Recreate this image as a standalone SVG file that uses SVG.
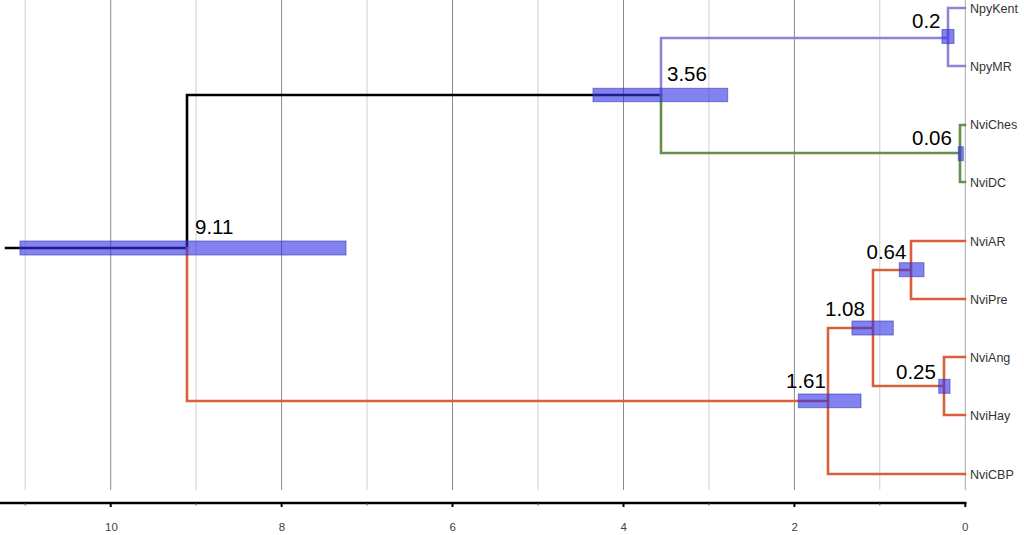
<svg xmlns="http://www.w3.org/2000/svg" width="1024" height="535" viewBox="0 0 1024 535">
<style>
.gmaj{stroke:#8a8a8a;stroke-width:1}
.gmin{stroke:#cfcfcf;stroke-width:1}
.br{fill:none;stroke-width:2.6;stroke-linejoin:miter;stroke-linecap:square}
.blk{stroke:#000}
.pur{stroke:#8e84d6}
.grn{stroke:#64904a}
.org{stroke:#d8613a}
.hpd{fill:#2f2fe6;fill-opacity:0.6;stroke:#3a3ab0;stroke-opacity:0.6;stroke-width:1}
.nl{font-family:"Liberation Sans",Arial,sans-serif;font-size:20.5px;fill:#000}
.tl{font-family:"Liberation Sans",Arial,sans-serif;font-size:12.5px;fill:#333}
.ax{font-family:"Liberation Sans",Arial,sans-serif;font-size:11.5px;fill:#444;text-anchor:middle}
</style>
<rect width="1024" height="535" fill="#fff"/>
<g id="grid">
<line class="gmin" x1="25.2" y1="0" x2="25.2" y2="490"/>
<line class="gmaj" x1="110.7" y1="0" x2="110.7" y2="490"/>
<line class="gmin" x1="196.1" y1="0" x2="196.1" y2="490"/>
<line class="gmaj" x1="281.6" y1="0" x2="281.6" y2="490"/>
<line class="gmin" x1="367" y1="0" x2="367" y2="490"/>
<line class="gmaj" x1="452.5" y1="0" x2="452.5" y2="490"/>
<line class="gmin" x1="538" y1="0" x2="538" y2="490"/>
<line class="gmaj" x1="623.5" y1="0" x2="623.5" y2="490"/>
<line class="gmin" x1="708.9" y1="0" x2="708.9" y2="490"/>
<line class="gmaj" x1="794.4" y1="0" x2="794.4" y2="490"/>
<line class="gmin" x1="879.8" y1="0" x2="879.8" y2="490"/>
<line stroke="#a8a8a8" stroke-width="1" x1="965.3" y1="0" x2="965.3" y2="490"/>
</g>
<g id="axis">
<line x1="0" y1="503" x2="966.5" y2="503" stroke="#000" stroke-width="2.6"/>
<g stroke="#000" stroke-width="2">
<line x1="110.7" y1="503" x2="110.7" y2="507"/>
<line x1="281.6" y1="503" x2="281.6" y2="507"/>
<line x1="452.5" y1="503" x2="452.5" y2="507"/>
<line x1="623.5" y1="503" x2="623.5" y2="507"/>
<line x1="794.4" y1="503" x2="794.4" y2="507"/>
<line x1="965.3" y1="503" x2="965.3" y2="507"/>
</g>
<g stroke="#555" stroke-width="1">
<line x1="25.2" y1="503" x2="25.2" y2="505.5"/>
<line x1="196.1" y1="503" x2="196.1" y2="505.5"/>
<line x1="367" y1="503" x2="367" y2="505.5"/>
<line x1="538" y1="503" x2="538" y2="505.5"/>
<line x1="708.9" y1="503" x2="708.9" y2="505.5"/>
<line x1="879.8" y1="503" x2="879.8" y2="505.5"/>
</g>
<text class="ax" x="111.5" y="531">10</text>
<text class="ax" x="282" y="531">8</text>
<text class="ax" x="452.7" y="531">6</text>
<text class="ax" x="623.7" y="531">4</text>
<text class="ax" x="794.7" y="531">2</text>
<text class="ax" x="965.3" y="531">0</text>
</g>
<g id="connectors">
<path class="br blk" d="M6,248 H187 V95 H661"/>
<path class="br org" d="M187,248 V401 H828"/>
<path class="br pur" d="M661,95 V38 H948 M948,8 V66 M948,8 H965 M948,66 H965"/>
<path class="br grn" d="M661,95 V153 H960 M960,125 V182 M960,125 H965 M960,182 H965"/>
<path class="br org" d="M828,328 V474 H965 M828,328 H873 M873,270 V386 M873,270 H911 M911,241 V299 M911,241 H965 M911,299 H965 M873,386 H944 M944,357 V415 M944,357 H965 M944,415 H965"/>
</g>
<g id="node-9.11">
<rect class="hpd" x="20" y="241" width="326" height="14"/>
<text class="nl" x="195" y="234">9.11</text>
</g>
<g id="node-3.56">
<rect class="hpd" x="593" y="88.3" width="134.7" height="13.4"/>
<text class="nl" x="667" y="81">3.56</text>
</g>
<g id="node-0.2">
<rect class="hpd" x="942" y="29.5" width="12" height="14"/>
<text class="nl" x="912" y="28">0.2</text>
</g>
<g id="node-0.06">
<rect class="hpd" x="958.3" y="146.7" width="5" height="14"/>
<text class="nl" x="912" y="144.5">0.06</text>
</g>
<g id="node-1.61">
<rect class="hpd" x="798.3" y="394" width="62.7" height="13.7"/>
<text class="nl" x="786" y="387.5">1.61</text>
</g>
<g id="node-1.08">
<rect class="hpd" x="852" y="321" width="41.3" height="14"/>
<text class="nl" x="825" y="316">1.08</text>
</g>
<g id="node-0.64">
<rect class="hpd" x="899.3" y="262.7" width="24.7" height="14"/>
<text class="nl" x="866.5" y="258.5">0.64</text>
</g>
<g id="node-0.25">
<rect class="hpd" x="938.7" y="379.3" width="11.3" height="14"/>
<text class="nl" x="896" y="378.5">0.25</text>
</g>
<g id="tip-NpyKent"><text class="tl" x="970" y="12.5">NpyKent</text></g>
<g id="tip-NpyMR"><text class="tl" x="970" y="70.5">NpyMR</text></g>
<g id="tip-NviChes"><text class="tl" x="970" y="129">NviChes</text></g>
<g id="tip-NviDC"><text class="tl" x="970" y="186.5">NviDC</text></g>
<g id="tip-NviAR"><text class="tl" x="970" y="245.5">NviAR</text></g>
<g id="tip-NviPre"><text class="tl" x="970" y="303.5">NviPre</text></g>
<g id="tip-NviAng"><text class="tl" x="970" y="361.5">NviAng</text></g>
<g id="tip-NviHay"><text class="tl" x="970" y="419.5">NviHay</text></g>
<g id="tip-NviCBP"><text class="tl" x="970" y="478.5">NviCBP</text></g>
</svg>
